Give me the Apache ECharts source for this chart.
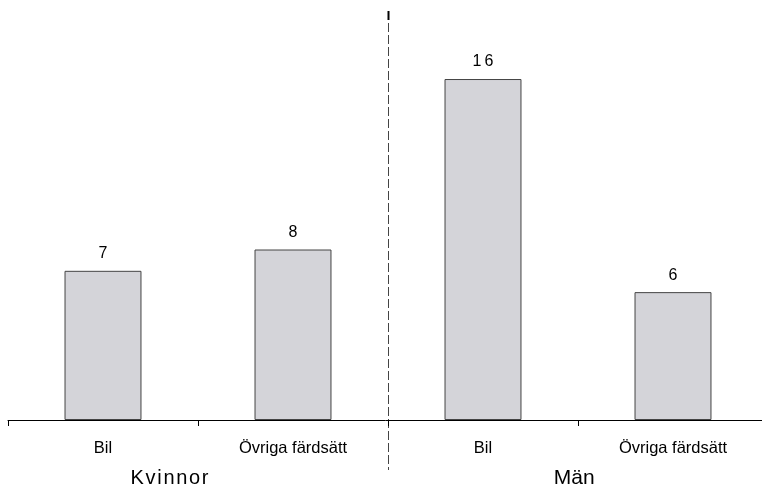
<!DOCTYPE html>
<html><head><meta charset="utf-8">
<script src="https://cdn.jsdelivr.net/npm/echarts@6/dist/echarts.min.js"></script>
<style>html,body{margin:0;padding:0;background:#fff}#c{width:762px;height:487px}</style>
</head><body><div id="c"></div>
<script>
const categories = ['Bil', 'Övriga färdsätt', 'Bil', 'Övriga färdsätt'];
const values = [7, 8, 16, 6];
const groups = ['Kvinnor', 'Män'];

const chart = echarts.init(document.getElementById('c'));
const FONT = '"Liberation Sans", Arial, sans-serif';
chart.setOption({
  animation: false,
  grid: { left: 8, width: 760, top: 36.4, bottom: 67, outerBoundsMode: 'none', containLabel: false },
  xAxis: {
    type: 'category', data: categories,
    axisLine: { show: true, lineStyle: { color: '#000', width: 1 } },
    axisTick: { show: true, interval: 0, length: 6, lineStyle: { color: '#000', width: 1 } },
    axisLabel: { color: '#000', fontSize: 16.5, fontFamily: FONT, margin: 20, interval: 0 }
  },
  yAxis: { type: 'value', min: 0, max: 18, show: false },
  series: [{
    type: 'bar', data: values, barWidth: '40.5%',
    itemStyle: { color: '#d4d4d9', borderColor: '#444', borderWidth: 1 },
    label: { show: true, position: 'top', distance: 9, color: '#000', fontSize: 16, fontFamily: FONT,
      formatter: p => String(p.value).split('').join('\u2009') }
  }]
});

// separator and group labels positioned via the axis scale
const x0 = chart.convertToPixel({ xAxisIndex: 0 }, 0);
const x1 = chart.convertToPixel({ xAxisIndex: 0 }, 1);
const step = x1 - x0;
const sepX = Math.round(x0 + 1.5 * step) + 0.5;
chart.setOption({
  graphic: [
    { type: 'line', shape: { x1: sepX, y1: 11, x2: sepX, y2: 470 },
      style: { stroke: '#444', lineWidth: 1, lineDash: [9, 3] } },
    { type: 'line', shape: { x1: sepX, y1: 11, x2: sepX, y2: 20 },
      style: { stroke: '#000', lineWidth: 2 } },
    { type: 'text', x: x0 + 0.35 * step, y: 478,
      style: { text: groups[0].split('').join('\u200A'), fill: '#000', fontSize: 20, fontFamily: FONT, align: 'center', verticalAlign: 'middle' } },
    { type: 'text', x: x0 + 2.48 * step, y: 478,
      style: { text: groups[1], fill: '#000', fontSize: 21, fontFamily: FONT, align: 'center', verticalAlign: 'middle' } }
  ]
});
</script></body></html>
